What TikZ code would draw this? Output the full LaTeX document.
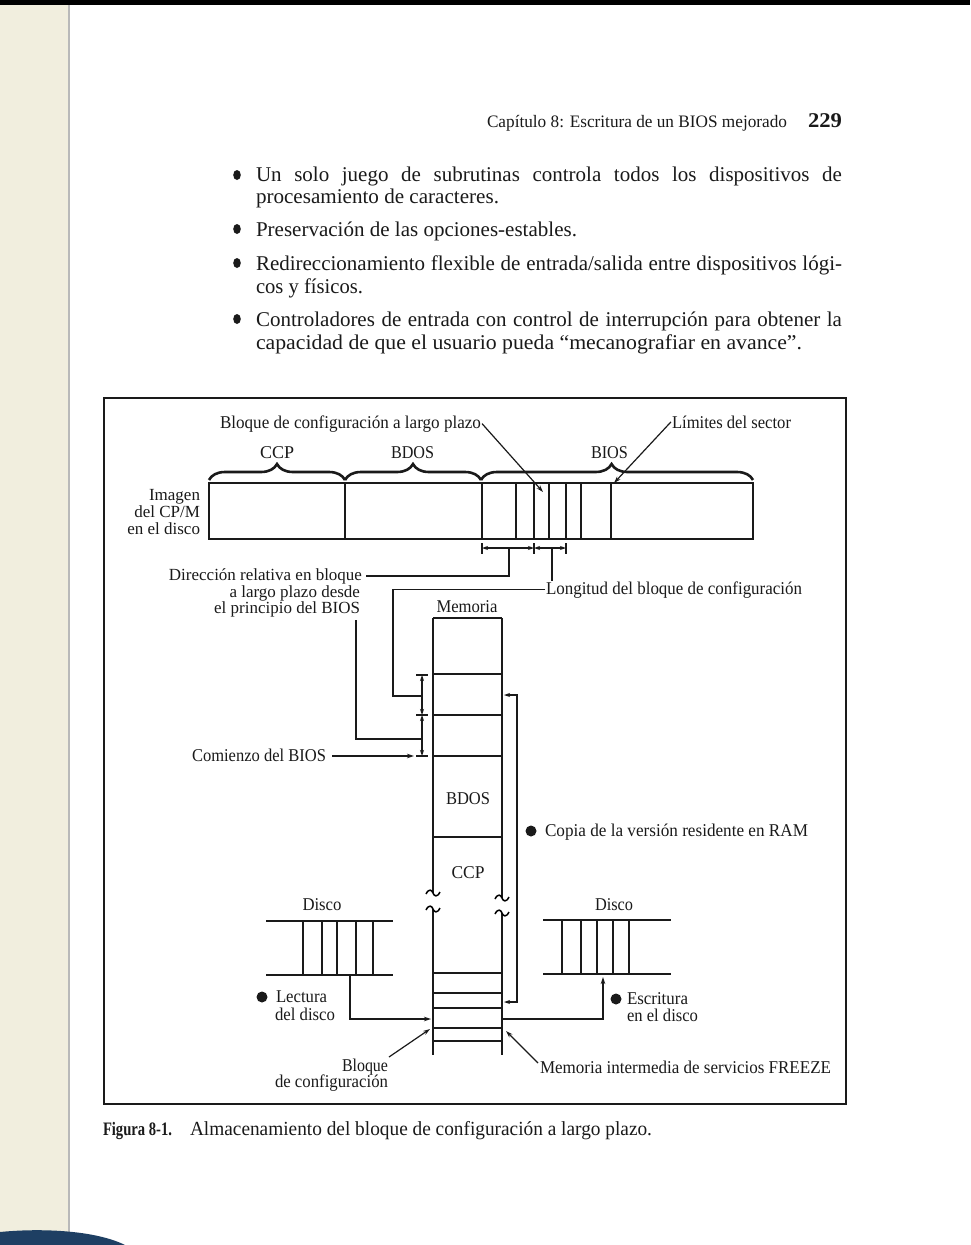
\documentclass[tikz,border=0pt]{standalone}
\usepackage{fontspec}
\setmainfont{Liberation Serif}
\usepackage{graphicx}
\usetikzlibrary{arrows.meta,decorations.pathreplacing}
\newcommand{\fw}[2]{\resizebox{#1pt}{\height}{#2}}
\newlength\jlen
\newcommand{\jline}[2]{\settowidth{\jlen}{#2}\ifdim\jlen<#1pt\makebox[#1pt][s]{#2}\else\resizebox{#1pt}{\height}{#2}\fi}
\newcommand{\tld}[2]{\draw[line width=1.5pt] (#1-7,#2+1) .. controls (#1-4,#2-5) and (#1-1,#2-3) .. (#1,#2) .. controls (#1+1,#2+3) and (#1+4,#2+5) .. (#1+7,#2-1);}
\definecolor{strip}{HTML}{F1EEDE}
\definecolor{blob}{HTML}{1E3F63}
\definecolor{ink}{HTML}{1A1A1A}
\tikzset{
  body/.style={inner sep=0pt, outer sep=0pt, font=\fontsize{21}{23}\selectfont, anchor=base west, text=ink},
  lbl/.style={inner sep=0pt, outer sep=0pt, font=\fontsize{18}{20}\selectfont, anchor=base west, text=ink},
  lble/.style={lbl, anchor=base east},
  lblc/.style={lbl, anchor=base},
  nat/.style={font=\fontsize{17}{19}\selectfont},
  thn/.style={line width=1.2pt, draw=ink},
  med/.style={line width=1.9pt, draw=ink},
  thk/.style={line width=2.7pt, draw=ink},
  arr/.style={-{Stealth[length=7pt,width=4.5pt]}},
  darr/.style={{Stealth[length=6pt,width=4pt]}-{Stealth[length=6pt,width=4pt]}},
  bbrace/.style={decorate, decoration={brace, amplitude=16pt}, line width=2.6pt, draw=ink},
}
\begin{document}
\begin{tikzpicture}[x=1pt,y=-1pt]
\useasboundingbox (0,0) rectangle (970,1245);
% page
\fill[white] (0,0) rectangle (970,1245);
\fill[strip] (0,0) rectangle (68,1245);
\draw[gray!55, line width=2.5pt] (69,0) -- (69,1245);
\fill[black] (0,0) rectangle (970,5);
\fill[blob] (0,1245) -- (0,1232) .. controls (40,1228) and (95,1230) .. (125,1245) -- cycle;

% header
\node[body, font=\fontsize{17.5}{19}\selectfont] (hdr) at (487,127) {\fw{300}{Capítulo 8: Escritura de un BIOS mejorado}};
\node[body, font=\fontsize{21}{22}\selectfont\bfseries] (pg) at (808,127) {\fw{34}{229}};

% bullets
\foreach \yy in {175,229,263,319} \fill[ink] (237,\yy) ellipse (3.8 and 5);
\node[body] (b1) at (256,181) {\jline{586}{Un solo juego de subrutinas controla todos los dispositivos de}};
\node[body] (b2) at (256,203) {\fw{243}{procesamiento de caracteres.}};
\node[body] (b3) at (256,236) {\fw{321}{Preservación de las opciones-estables.}};
\node[body] (b4) at (256,270) {\jline{586}{Redireccionamiento flexible de entrada/salida entre dispositivos lógi-}};
\node[body] (b5) at (256,293) {\fw{107}{cos y físicos.}};
\node[body] (b6) at (256,326) {\jline{586}{Controladores de entrada con control de interrupción para obtener la}};
\node[body] (b7) at (256,349) {\fw{546}{capacidad de que el usuario pueda “mecanografiar en avance”.}};

% frame
\draw[line width=2pt, draw=ink] (104,398) rectangle (846,1104);

% caption
\node[body, font=\fontsize{19}{21}\selectfont\bfseries] (cap1) at (103,1135) {\fw{69}{Figura 8-1.}};
\node[body, font=\fontsize{20}{22}\selectfont] (cap2) at (190,1135) {\fw{462}{Almacenamiento del bloque de configuración a largo plazo.}};

% ---- top disk image ----
\node[lbl] (tl) at (220,428) {\fw{261}{Bloque de configuración a largo plazo}};
\node[lbl] (ls) at (672,428) {\fw{119}{Límites del sector}};
\node[lbl] (lccp) at (260,458) {\fw{34}{CCP}};
\node[lbl] (lbdos) at (391,458) {\fw{43}{BDOS}};
\node[lbl] (lbios) at (591,458) {\fw{37}{BIOS}};
\node[lble, nat] (im1) at (200,500) {Imagen};
\node[lble, nat] (im2) at (200,517) {del CP/M};
\node[lble, nat] (im3) at (200,534) {en el disco};

\draw[bbrace] (209,480) -- (345,480);
\draw[bbrace] (345,480) -- (481,480);
\draw[bbrace, decoration={brace, amplitude=16pt, aspect=0.48}] (481,480) -- (753,480);

\draw[med] (209,483) rectangle (753,539);
\foreach \xx in {345,482} \draw[med] (\xx,483) -- (\xx,539);
\foreach \xx in {516,549,581} \draw[thn] (\xx,483) -- (\xx,539);
\foreach \xx in {534,566} \draw[thk] (\xx,483) -- (\xx,539);
\draw[med] (611,483) -- (611,539);

\draw[thn, arr] (tl.east) ++(1,0) coordinate (tlS) -- (543,492);
\draw[thn, arr] (ls.west) ++(-1,0) coordinate (lsS) -- (614,483);

% horizontal dimensions
\coordinate (dA) at (482,548); \coordinate (dB) at (534,548); \coordinate (dC) at (566,548);
\foreach \xx in {482,534,566} \draw[thn] (\xx,543) -- (\xx,554);
\draw[thn, darr] (dA) -- (dB);
\draw[thn, darr] (dB) -- (dC);
\node[lble, nat] (d1) at (362,580) {Dirección relativa en bloque};
\node[lble, nat] (d2) at (360,597) {a largo plazo desde};
\node[lble, nat] (d3) at (360,613) {el principio del BIOS};
\draw[thn] ([xshift=4pt]d1.east) -| (509,548);
\node[lbl] (lon) at (546,594) {\fw{256}{Longitud del bloque de configuración}};
\draw[thn] (552,548) -- (552,581);

% memory column
\node[lblc] (mem) at (467,612) {\fw{61}{Memoria}};
\draw[med] (433,618) -- (502,618);
\draw[med] (433,618) -- (433,893);
\draw[med] (433,909) -- (433,1055);
\draw[med] (502,618) -- (502,898);
\draw[med] (502,913) -- (502,1055);
\tld{433}{893} \tld{433}{909} \tld{502}{898} \tld{502}{913}
\foreach \yy in {674,715,756,837} \draw[med] (433,\yy) -- (502,\yy);
\foreach \yy in {973,1008,1041} \draw[thn] (433,\yy) -- (502,\yy);
\foreach \yy in {993,1028} \draw[thk] (433,\yy) -- (502,\yy);
\node[lblc] (mbdos) at (468,804) {\fw{44}{BDOS}};
\node[lblc] (mccp) at (468,878) {\fw{33}{CCP}};

% vertical dimension
\coordinate (vA) at (422,675); \coordinate (vB) at (422,715); \coordinate (vC) at (422,756);
\coordinate (vCa) at (414,756);
\foreach \yy in {675,715,756} \draw[thn] (416,\yy) -- (428,\yy);
\draw[thn, darr] (vA) -- (vB);
\draw[thn, darr] (vB) -- (vC);
\draw[thn] ([xshift=-1pt]lon.west) -| (393,696) -- (422,696);
\draw[thn] (356,620) |- (422,739);
\node[lbl] (com) at (192,761) {\fw{134}{Comienzo del BIOS}};
\draw[thn, arr] ([xshift=6pt]com.east |- vCa) -- (vCa);

% copy loop
\draw[thn, darr] (504,695) -- (517,695) -- (517,1002) -- (504,1002);
\fill[ink] (531,831) circle (5.5);
\node[lbl] (cop) at (545,836) {\fw{263}{Copia de la versión residente en RAM}};

% disks
\node[lblc] (dl) at (322,910) {\fw{39}{Disco}};
\draw[med] (266,921) -- (393,921);
\draw[med] (266,975) -- (393,975);
\foreach \xx in {303,337,373} \draw[thn] (\xx,921) -- (\xx,975);
\foreach \xx in {322,356} \draw[med] (\xx,921) -- (\xx,975);
\node[lblc] (dr) at (614,910) {\fw{38}{Disco}};
\draw[med] (543,920) -- (671,920);
\draw[med] (543,974) -- (671,974);
\foreach \xx in {562,581,597,613,629} \draw[med] (\xx,920) -- (\xx,974);

% read / write
\fill[ink] (262,997) circle (5.5);
\node[lbl] (lec1) at (276,1002) {\fw{51}{Lectura}};
\node[lbl] (lec2) at (275,1020) {\fw{60}{del disco}};
\draw[thn, arr] (350,975) -- (350,1019) -- (431,1019);
\fill[ink] (616,999) circle (5.5);
\node[lbl] (esc1) at (627,1004) {\fw{61}{Escritura}};
\node[lbl] (esc2) at (627,1021) {\fw{71}{en el disco}};
\draw[thn, arr] (502,1019) -- (603,1019) -- (603,977);

% bottom labels
\node[lble] (bq1) at (388,1071) {\fw{46}{Bloque}};
\node[lble] (bq2) at (388,1087) {\fw{113}{de configuración}};
\draw[thn, arr] (389,1057) -- (430,1029);
\node[lbl] (mif) at (540,1073) {\fw{291}{Memoria intermedia de servicios FREEZE}};
\draw[thn, arr] (538,1063) -- (506,1031);
\end{tikzpicture}
\end{document}
